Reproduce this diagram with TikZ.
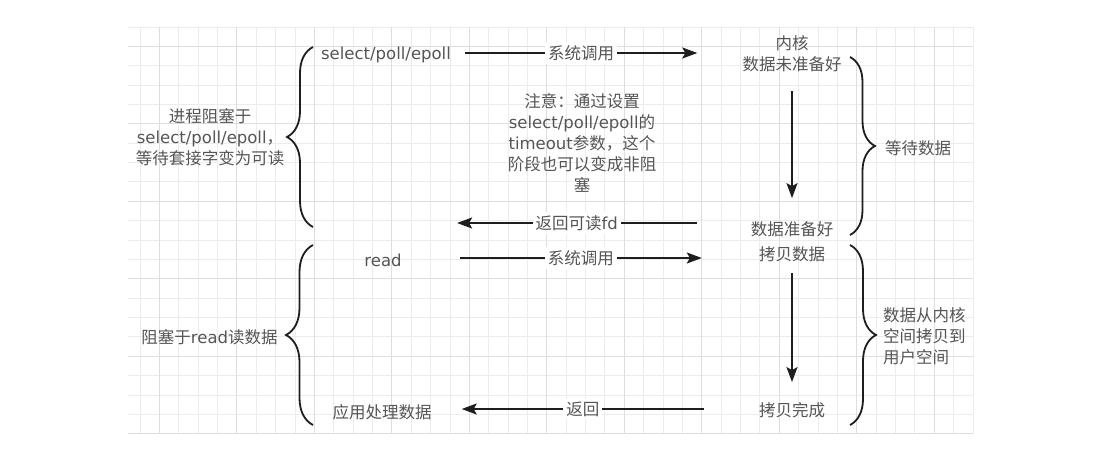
\documentclass[tikz,border=0pt]{standalone}
\usepackage{fontspec}
\setmainfont{Noto Sans CJK SC}
\newfontfamily\lat{DejaVu Sans}
\usepackage{tikz}
\usetikzlibrary{arrows.meta,decorations.pathreplacing}
\definecolor{txtgray}{RGB}{85,85,85}
\definecolor{linedark}{RGB}{30,30,30}
\definecolor{gridminor}{RGB}{236,236,236}
\definecolor{gridmajor}{RGB}{222,222,222}

\begin{document}
\begin{tikzpicture}[
        x=1pt, y=-1pt,
        txt/.style={inner sep=0pt, align=center, text=txtgray, font=\fontsize{16.5}{21}\selectfont},
        lbl/.style={fill=white, inner sep=3pt, text=txtgray, font=\fontsize{16.5}{21}\selectfont},
        arrow/.style={-{Stealth[length=15pt, width=11pt, inset=3pt]}, line width=1.8pt, draw=linedark},
        curly/.style={decorate, decoration={brace, amplitude=#1pt}, line width=1.8pt, draw=linedark},
        minorline/.style={draw=gridminor, line width=1pt},
        majorline/.style={draw=gridmajor, line width=1pt},
    ]
        \fill[white] (0,0) rectangle (1119,458);
        \useasboundingbox (0,0) rectangle (1119,458);

        % Grid paper
        \foreach \k in {0,...,43}
            \draw[minorline] ({973-19.37*\k},27) -- ({973-19.37*\k},434);
        \foreach \k in {0,...,21}
            \draw[minorline] (128,{27+19.37*\k}) -- (973,{27+19.37*\k});
        \foreach \k in {2,6,...,42}
            \draw[majorline] ({973-19.37*\k},27) -- ({973-19.37*\k},434);
        \foreach \k in {1,5,...,21}
            \draw[majorline] (128,{27+19.37*\k}) -- (973,{27+19.37*\k});

        % Stage 1: waiting for data
        \node[txt] (sel) at (386,55) {\lat select/poll/epoll};
        \node[txt] (kern) at (792,54) {内核\\数据未准备好};
        \node[txt] (ready) at (792,229) {数据准备好};
        \node[txt] (note) at (582,143) {注意：通过设置\\{\lat select/poll/epoll}的\\{\lat timeout}参数，这个\\阶段也可以变成非阻\\塞};
        \node[txt] (waitsel) at (210,137) {进程阻塞于\\{\lat select/poll/epoll}，\\等待套接字变为可读};
        \node[txt, anchor=west] (waitdata) at (885,148) {等待数据};

        % Stage 2: copying data
        \node[txt] (rd) at (383,260) {\lat read};
        \node[txt] (copy) at (792,254) {拷贝数据};
        \node[txt] (done) at (792,410) {拷贝完成};
        \node[txt] (app) at (382,412) {应用处理数据};
        \node[txt] (blockread) at (209.5,337) {阻塞于{\lat read}读数据};
        \node[txt, anchor=west, align=left] (copyspace) at (883,336) {数据从内核\\空间拷贝到\\用户空间};

        % Stage 1 arrows
        \draw[arrow] ([xshift=14pt, yshift=2pt]sel.east) -- ([xshift=-45pt, yshift=2pt]sel.east -| kern.west)
            node[lbl, midway] {系统调用};
        \draw[arrow, shorten <=19pt, shorten >=23pt] (kern.south) -- (ready.north);
        \draw[arrow] ([xshift=-54pt, yshift=6pt]ready.west) -- ([xshift=6pt, yshift=6pt]ready.west -| sel.east)
            node[lbl, midway] {返回可读{\lat fd}};

        % Stage 2 arrows
        \draw[arrow] ([xshift=58pt, yshift=2pt]rd.east) -- ([xshift=-57pt, yshift=2pt]rd.east -| copy.west)
            node[lbl, midway] {系统调用};
        \draw[arrow, shorten <=11pt, shorten >=20pt] (copy.south) -- (done.north);
        \draw[arrow] ([xshift=-55pt, yshift=1pt]done.west) -- ([xshift=30pt, yshift=1pt]done.west -| app.east)
            node[lbl, midway] {返回};

        % Braces
        \draw[curly=26] (313,227) -- (313,47);
        \draw[curly=27] (313,425) -- (313,245);
        \draw[curly=25] (850,57) -- (850,235);
        \draw[curly=26] (850,245) -- (850,425);
    \end{tikzpicture}
\end{document}
